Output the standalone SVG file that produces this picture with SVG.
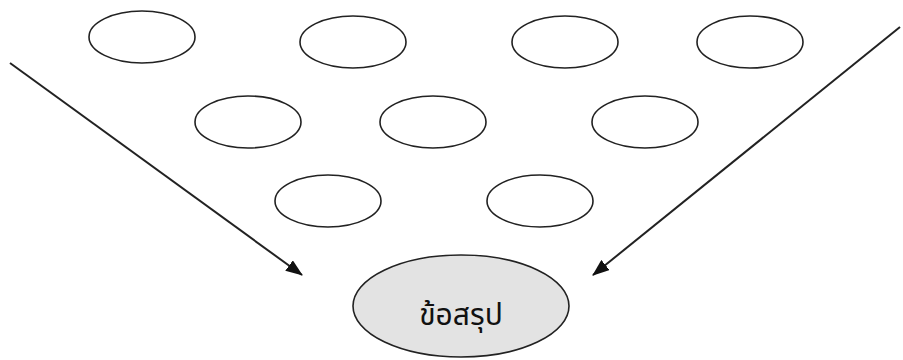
<svg xmlns="http://www.w3.org/2000/svg" width="903" height="360" viewBox="0 0 903 360">
<style>
.n ellipse{fill:#fff;stroke:#222;stroke-width:1.6}
.c line{stroke:#222;stroke-width:2}
.t{font-family:"Noto Sans Thai","Tahoma","DejaVu Sans","Noto Sans",sans-serif;font-size:30px;fill:#111;text-anchor:middle}
</style>
<defs>
<marker id="ah" markerWidth="17" markerHeight="13" refX="16" refY="6.5" orient="auto" markerUnits="userSpaceOnUse" viewBox="0 0 17 13">
<path d="M0,0 L17,6.5 L0,13 Z" fill="#111"/>
</marker>
</defs>
<rect width="903" height="360" fill="#fff"/>
<g class="n">
<g id="n1"><ellipse cx="142" cy="37" rx="53" ry="26"/></g>
<g id="n2"><ellipse cx="353" cy="42" rx="53" ry="26"/></g>
<g id="n3"><ellipse cx="565" cy="42" rx="53" ry="26"/></g>
<g id="n4"><ellipse cx="750" cy="42" rx="53" ry="26"/></g>
<g id="n5"><ellipse cx="248" cy="122" rx="53" ry="26"/></g>
<g id="n6"><ellipse cx="433" cy="122" rx="53" ry="26"/></g>
<g id="n7"><ellipse cx="645" cy="122" rx="53" ry="26"/></g>
<g id="n8"><ellipse cx="328" cy="201" rx="53" ry="26"/></g>
<g id="n9"><ellipse cx="540" cy="201" rx="53" ry="26"/></g>
</g>
<g id="result">
<ellipse cx="461" cy="306" rx="108" ry="51" fill="#e3e3e3" stroke="#222" stroke-width="1.6"/>
<text class="t" x="461" y="325">ข้อสรุป</text>
</g>
<g class="c">
<line x1="10" y1="63" x2="302" y2="275" marker-end="url(#ah)"/>
<line x1="900" y1="27" x2="593" y2="275" marker-end="url(#ah)"/>
</g>
</svg>
